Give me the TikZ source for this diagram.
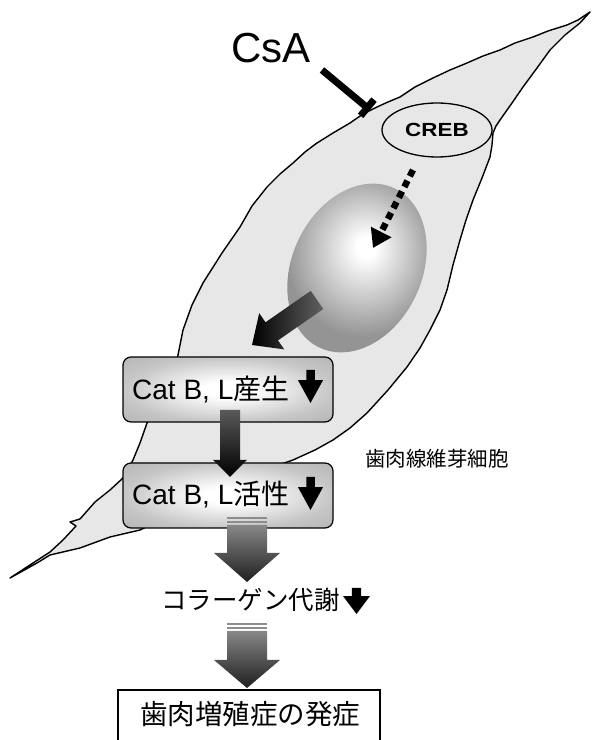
\documentclass[tikz,border=0pt]{standalone}
\usepackage{fontspec}
\setmainfont{Liberation Sans}
\newfontfamily\cjk{Noto Sans CJK JP}
\usetikzlibrary{arrows.meta,shapes.geometric,calc}

% soft glows for the nucleus and the Cat B, L boxes
\pgfdeclareradialshading{nucglow}{\pgfpoint{3bp}{4bp}}{%
  color(0bp)=(white); color(3bp)=(white); color(24bp)=(gray!84); color(50bp)=(gray!84)}
\pgfdeclareradialshading{boxglow}{\pgfpoint{0bp}{0bp}}{%
  color(0bp)=(white); color(6bp)=(white); color(25bp)=(gray!45); color(36bp)=(gray!58); color(50bp)=(gray!58)}

% vertical block arrow: x, top y, head base y, tip y, shaft half width, head half width, style
\newcommand\downblock[7]{%
  \path[#7] (#1-#5,#2) -- (#1+#5,#2) -- (#1+#5,#3) -- (#1+#6,#3) -- (#1,#4)
    -- (#1-#6,#3) -- (#1-#5,#3) -- cycle;}
% small solid "decrease" arrow: centre x, top y, width, height
\newcommand\dnmark[4]{%
  \fill[black] (#1-0.17*#3,#2) -- (#1+0.17*#3,#2) -- (#1+0.17*#3,#2-0.31*#4)
    -- (#1+0.5*#3,#2-0.31*#4) -- (#1,#2-#4) -- (#1-0.5*#3,#2-0.31*#4)
    -- (#1-0.17*#3,#2-0.31*#4) -- cycle;}

\begin{document}
\begin{tikzpicture}[x=1pt,y=1pt,
  cell/.style={draw=black, line width=1.4pt, fill=gray!19, line join=round},
  catbox/.style={draw=black, line width=1.2pt, rounded corners=8pt,
    minimum width=210pt, minimum height=65pt, inner sep=0pt, shading=boxglow},
  boxtext/.style={font=\fontsize{28}{28}\selectfont, anchor=base west, inner sep=0pt},
  darkarrow/.style={top color=black!65, bottom color=black},
  flowarrow/.style={top color=black!47, bottom color=black!88},
  stripe/.style={fill=black!45},
]
\useasboundingbox (0,0) rectangle (594,740);

% fibroblast outline
\path[cell] (590,728) -- (578,720) -- (567,715) -- (548,709) -- (533,703) -- (515,697)
  -- (500,690) -- (483,684) -- (467,677) -- (450,670) -- (433,662) -- (415,653)
  -- (400,643) -- (388,638) -- (377,633) -- (363,626) -- (350,617) -- (333,607)
  -- (317,597) -- (305,588) -- (293,577) -- (280,566) -- (267,553) -- (252,534)
  -- (240,513) -- (222,487) -- (203,457) -- (192,435) -- (183,410) -- (178,385)
  -- (175,370) -- (160,345) -- (147,317) -- (140,297) -- (133,280) -- (123,262)
  -- (110,250) -- (95,238) -- (80,221) -- (70,218) -- (76,214) -- (63,200)
  -- (50,188) -- (33,177) -- (10,162)
  -- (37,177) -- (50,185) -- (80,192) -- (110,203) -- (140,210) -- (170,225)
  -- (200,240) -- (240,262) -- (270,272) -- (293,280) -- (315,290) -- (333,300)
  -- (350,312) -- (367,327) -- (388,350) -- (407,373) -- (420,392) -- (430,410)
  -- (440,430) -- (447,450) -- (453,475) -- (460,500) -- (466,520) -- (473,540)
  -- (482,562) -- (490,583) -- (492,595) -- (493,607) -- (496,614) -- (500,620)
  -- (512,637) -- (523,653) -- (537,672) -- (550,690) -- (565,705) -- (580,717)
  -- cycle;

% nucleus
\node[ellipse, minimum width=130pt, minimum height=176pt, rotate=-25, inner sep=0pt,
  shading=nucglow] (nuc) at (357,472) {};

% CREB
\node[ellipse, draw=black, line width=1.3pt, minimum width=110pt, minimum height=54pt,
  inner sep=0pt, font=\fontsize{19}{19}\selectfont\bfseries] (creb) at (437,610)
  {\scalebox{1.18}[1]{CREB}};

% CsA and its inhibition of the cell
\node[anchor=base west, inner sep=0pt, font=\fontsize{42}{42}\selectfont] (csa) at (231,677) {CsA};
\coordinate (csaFrom) at (322,670);
\coordinate (csaTo) at (370,630);
\draw[line width=7pt, -{Bar[width=21pt, line width=7pt]}] (csaFrom) -- (csaTo);

% CREB to nucleus
\coordinate (crebOut) at (413,570);
\coordinate (nucIn) at (373,492);
\draw[line width=6.5pt, dash pattern=on 7pt off 5pt,
  -{Triangle[width=22pt, length=18pt]}] (crebOut) -- (nucIn);

% nucleus to Cat B, L production
\path[left color=black, right color=black!62]
  (323.3,431.0) -- (278.0,399.6) -- (284.3,390.6) -- (252,395) -- (259.2,426.8)
  -- (265.5,417.7) -- (310.7,449.1) -- cycle;

% Cat B, L boxes
\node[catbox] (b1) at (228,350.5) {};
\node[boxtext] (t1) at (132,340) {Cat B, L{\cjk 産生}};
\dnmark{310.5}{370}{25}{33}

\node[catbox] (b2) at (228,244.5) {};
\node[boxtext] (t2) at (132,235) {Cat B, L{\cjk 活性}};
\dnmark{310.5}{263}{25}{33}

% production -> activity
\downblock{230}{330}{280}{263}{10}{17}{darkarrow}

% activity -> collagen metabolism
\fill[stripe] (227,223) rectangle (267,220.5);
\fill[stripe] (227,219) rectangle (267,217);
\downblock{247}{215}{187}{158}{20}{33}{flowarrow}

\node[anchor=west, inner sep=0pt, font=\fontsize{25.5}{25.5}\selectfont\cjk] (coll) at (161,140) {コラーゲン代謝};
\dnmark{356.5}{152}{27}{26}

% collagen metabolism -> onset
\fill[stripe] (227,117) rectangle (267,114.5);
\fill[stripe] (227,113) rectangle (267,111);
\downblock{247}{109}{80}{52}{20}{33}{flowarrow}

% onset of gingival overgrowth
\draw[line width=1.2pt] (118,0) -- (118,50) -- (380,50) -- (380,0);
\node[font=\fontsize{27.5}{27.5}\selectfont\cjk, inner sep=0pt] (onset) at (250,26) {歯肉増殖症の発症};

% cell label
\node[font=\fontsize{20.5}{20.5}\selectfont\cjk, inner sep=0pt] (lbl) at (437,281) {歯肉線維芽細胞};
\end{tikzpicture}
\end{document}
